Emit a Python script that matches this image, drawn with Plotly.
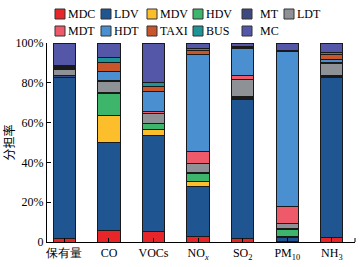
import plotly.graph_objects as go

categories = ["保有量", "CO", "VOCs", "NO<sub><i>x</i></sub>", "SO<sub>2</sub>", "PM<sub>10</sub>", "NH<sub>3</sub>"]
series_names = ["MDC", "LDV", "MDV", "HDV", "MT", "LDT", "MDT", "HDT", "TAXI", "BUS", "MC"]

MDC  = [2.0, 5.9, 5.2, 3.0, 1.7, 0.3, 2.2]
LDV  = [80.5, 44.0, 48.4, 25.1, 70.0, 2.0, 80.7]
MDV  = [0.2, 13.6, 2.8, 2.4, 0.4, 0.5, 0.2]
HDV  = [0.2, 10.9, 2.9, 3.7, 0.5, 3.7, 0.2]
MT   = [0.8, 0.5, 0.5, 0.5, 0.4, 0.5, 0.3]
LDT  = [3.0, 5.8, 4.7, 5.0, 8.9, 2.5, 6.2]
MDT  = [0.3, 0.5, 1.3, 6.0, 1.9, 8.1, 0.5]
HDT  = [0.7, 4.7, 9.9, 48.4, 13.4, 77.9, 1.4]
TAXI = [0.3, 4.4, 2.5, 2.2, 0.5, 0.4, 2.6]
BUS  = [0.5, 2.3, 2.2, 1.0, 0.6, 0.4, 0.8]
MC   = [11.5, 7.4, 19.6, 2.7, 1.7, 3.7, 4.9]

series_values = [MDC, LDV, MDV, HDV, MT, LDT, MDT, HDT, TAXI, BUS, MC]
colors = ["#E8262A", "#1F5590", "#FDBE2C", "#3DB56A", "#3E4A7E", "#8E9196",
          "#EE5A6A", "#4A8FD0", "#C9552A", "#1E9496", "#5457A8"]

ytick_vals = [0, 20, 40, 60, 80, 100]
ytick_text = ["0", "20%", "40%", "60%", "80%", "100%"]

serif = "Liberation Serif, Times New Roman, serif"

W, H = 362, 267
ML, MR, MT_, MB = 47, 7, 43, 25
PW, PH = W - ML - MR, H - MT_ - MB

fig = go.Figure()
for name, vals, col in zip(series_names, series_values, colors):
    fig.add_trace(go.Bar(
        x=categories, y=vals, name=name,
        marker=dict(color=col, line=dict(color="#1a1a1a", width=1)),
        width=0.5, showlegend=False,
    ))

# custom two-row legend (layout placement in pixels)
leg_cols = [55, 101, 147, 193, 242, 284]
leg_rows = [14, 31]
box = 10
shapes = []
annotations = []
px = lambda v: (v - ML) / PW
py = lambda v: (H - MB - v) / PH
for i, (name, col) in enumerate(zip(series_names, colors)):
    r, c = divmod(i, 6)
    x0 = leg_cols[c]
    yc = leg_rows[r]
    toff = 16 if name in ("MT", "MC") else 11
    shapes.append(dict(type="rect", xref="paper", yref="paper",
                       x0=px(x0), x1=px(x0 + box), y0=py(yc - box / 2), y1=py(yc + box / 2),
                       fillcolor=col, line=dict(color="#333333", width=1)))
    annotations.append(dict(text=name, xref="paper", yref="paper", x=px(x0 + toff), y=py(yc),
                            xanchor="left", yanchor="middle", showarrow=False,
                            font=dict(family=serif, size=12, color="black")))

shapes.append(dict(type="line", xref="paper", yref="paper", x0=1, x1=1, y0=0, y1=0.02,
                   line=dict(color="black", width=1)))

fig.update_layout(
    barmode="stack",
    width=W, height=H,
    margin=dict(l=ML, r=MR, t=MT_, b=MB, autoexpand=False),
    paper_bgcolor="white", plot_bgcolor="white",
    font=dict(family=serif, size=12, color="black"),
    showlegend=False,
    shapes=shapes, annotations=annotations,
)
fig.update_xaxes(
    type="category", range=[-0.39, 6.52],
    showline=True, linecolor="black", linewidth=1,
    ticks="inside", ticklen=4, tickcolor="black",
    tickfont=dict(family=serif, size=12),
    showgrid=False, zeroline=False,
)
fig.update_yaxes(
    range=[0, 100], tickvals=ytick_vals, ticktext=ytick_text,
    showline=True, linecolor="black", linewidth=1,
    ticks="inside", ticklen=4, tickcolor="black",
    tickfont=dict(family=serif, size=12),
    showgrid=False, zeroline=False,
    title=dict(text="分担率", font=dict(family="Noto Sans CJK SC", size=12), standoff=0),
)

fig.write_html("out.html", config={"displayModeBar": False},
               post_script="document.body.style.margin='0px';document.body.style.overflow='hidden';")
